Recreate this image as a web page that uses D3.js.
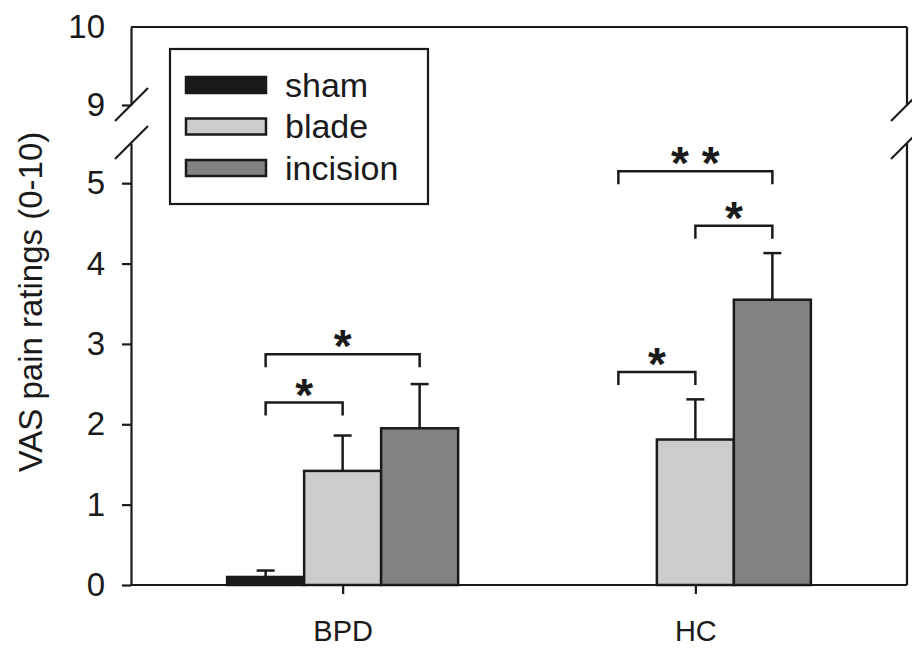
<!DOCTYPE html>
<html>
<head>
<meta charset="utf-8">
<script src="https://cdn.jsdelivr.net/npm/d3@7"></script>
<style>
  body { margin: 0; background: #fff; }
  text { font-family: "Liberation Sans", Arial, sans-serif; fill: #1a1a1a; }
</style>
</head>
<body>
<div id="chart"></div>
<script>
// data
const groups = ["BPD", "HC"];
const conditions = ["sham", "blade", "incision"];
const colors = ["#1a1a1a", "#cccccc", "#828282"];
const bpdMeans = [0.1, 1.42, 1.95];
const bpdErrors = [0.08, 0.44, 0.55];
const hcMeans = [null, 1.81, 3.55];
const hcErrors = [null, 0.5, 0.58];
const lowTicks = [0, 1, 2, 3, 4, 5];
const highTicks = [9, 10];
// significance brackets: group, from condition, to condition, height, label
const brackets = [
    { group: "BPD", from: "sham", to: "blade", level: 2.27, label: "*" },
    { group: "BPD", from: "sham", to: "incision", level: 2.87, label: "*" },
    { group: "HC", from: "sham", to: "blade", level: 2.65, label: "*" },
    { group: "HC", from: "blade", to: "incision", level: 4.47, label: "*" },
    { group: "HC", from: "sham", to: "incision", level: 5.15, label: "* *" }
];

const width = 912, height = 648;
const left = 131, right = 907;

const svg = d3.select("#chart")
    .append("svg")
    .attr("width", width)
    .attr("height", height);

const x = d3.scalePoint()
    .domain(groups)
    .range([left, right])
    .padding(0.6);

const inner = d3.scaleBand()
    .domain(conditions)
    .range([-115.5, 115.5])
    .padding(0);

const yLow = d3.scaleLinear().domain([0, 5.5]).range([585, 143]);
const yHigh = d3.scaleLinear().domain([9, 10]).range([105, 27]);

const color = d3.scaleOrdinal().domain(conditions).range(colors);

const rows = [];
groups.forEach(g => {
    const means = g === "BPD" ? bpdMeans : hcMeans;
    const errs = g === "BPD" ? bpdErrors : hcErrors;
    conditions.forEach((c, i) => {
        if (means[i] != null) rows.push({ group: g, cond: c, mean: means[i], err: errs[i] });
    });
});

// error bars (upper only), drawn first so bars sit on top
const eb = svg.append("g").attr("stroke", "#1a1a1a").attr("stroke-width", 2.5);
rows.forEach(d => {
    const cx = x(d.group) + inner(d.cond) + inner.bandwidth() / 2;
    eb.append("line")
        .attr("x1", cx).attr("x2", cx)
        .attr("y1", yLow(d.mean)).attr("y2", yLow(d.mean + d.err));
    eb.append("line")
        .attr("x1", cx - 9).attr("x2", cx + 9)
        .attr("y1", yLow(d.mean + d.err)).attr("y2", yLow(d.mean + d.err));
});

svg.append("g")
    .selectAll("rect")
    .data(rows)
    .join("rect")
    .attr("x", d => x(d.group) + inner(d.cond))
    .attr("y", d => yLow(d.mean))
    .attr("width", inner.bandwidth())
    .attr("height", d => yLow(0) - yLow(d.mean))
    .attr("fill", d => color(d.cond))
    .attr("stroke", "#1a1a1a")
    .attr("stroke-width", 2.5);

// axes
const fmt = d3.format("d");
const axisLow = svg.append("g")
    .attr("transform", `translate(${left},0)`)
    .call(d3.axisLeft(yLow).tickValues(lowTicks).tickFormat(fmt).tickSize(9).tickSizeOuter(0).tickPadding(17));
const axisHigh = svg.append("g")
    .attr("transform", `translate(${left},0)`)
    .call(d3.axisLeft(yHigh).tickValues(highTicks).tickFormat(fmt).tickSize(9).tickSizeOuter(0).tickPadding(17));
[axisLow, axisHigh].forEach(a => {
    a.selectAll("path, line").attr("stroke", "#1a1a1a").attr("stroke-width", 2.2);
    a.selectAll("text").attr("font-size", 33).attr("fill", "#1a1a1a")
        .style("font-family", "'Liberation Sans', Arial, sans-serif");
});
axisHigh.select(".tick:last-of-type line").remove();

// right frame segments
const frame = svg.append("g").attr("stroke", "#1a1a1a").attr("stroke-width", 2.2).attr("fill", "none");
frame.append("line").attr("x1", right).attr("x2", right).attr("y1", yLow(0)).attr("y2", yLow(5.5));
frame.append("line").attr("x1", right).attr("x2", right).attr("y1", yHigh(9)).attr("y2", yHigh(10));
frame.append("line").attr("x1", left).attr("x2", right).attr("y1", yHigh(10)).attr("y2", yHigh(10));

// break marks
[left, right].forEach(px => {
    [yHigh(9), yLow(5.5)].forEach(py => {
        frame.append("line")
            .attr("x1", px - 16).attr("y1", py + 16)
            .attr("x2", px + 17).attr("y2", py - 17);
    });
});

// bottom axis
const axisX = svg.append("g")
    .attr("transform", `translate(0,${yLow(0)})`)
    .call(d3.axisBottom(x).tickSize(9).tickSizeOuter(0).tickPadding(26));
axisX.selectAll("path, line").attr("stroke", "#1a1a1a").attr("stroke-width", 2.2);
axisX.select("path").attr("d", `M${left},0H${right}`);
axisX.selectAll("text").attr("font-size", 29).attr("fill", "#1a1a1a")
    .style("font-family", "'Liberation Sans', Arial, sans-serif");

// y label
svg.append("text")
    .attr("transform", `translate(42,302) rotate(-90)`)
    .attr("text-anchor", "middle")
    .attr("font-size", 33)
    .text("VAS pain ratings (0-10)");

// significance brackets
const br = svg.append("g");
brackets.forEach(b => {
    const x1 = x(b.group) + inner(b.from) + inner.bandwidth() / 2;
    const x2 = x(b.group) + inner(b.to) + inner.bandwidth() / 2;
    const y0 = yLow(b.level);
    br.append("path")
        .attr("d", `M${x1},${y0 + 13}V${y0}H${x2}V${y0 + 13}`)
        .attr("fill", "none")
        .attr("stroke", "#1a1a1a")
        .attr("stroke-width", 2.5);
    br.append("text")
        .attr("x", (x1 + x2) / 2)
        .attr("y", y0 + 8)
        .attr("text-anchor", "middle")
        .attr("font-size", 46)
        .attr("font-weight", "bold")
        .attr("fill", "#000")
        .text(b.label);
});

// legend
const legend = svg.append("g");
legend.append("rect")
    .attr("x", 170).attr("y", 49).attr("width", 258).attr("height", 155)
    .attr("fill", "#fff").attr("stroke", "#1a1a1a").attr("stroke-width", 2.2);
const legendY = d3.scalePoint().domain(conditions).range([85, 168]);
conditions.forEach(c => {
    legend.append("rect")
        .attr("x", 186).attr("y", legendY(c) - 8)
        .attr("width", 80).attr("height", 16)
        .attr("fill", color(c)).attr("stroke", "#1a1a1a").attr("stroke-width", 2.5);
    legend.append("text")
        .attr("x", 285).attr("y", legendY(c))
        .attr("dy", "0.35em")
        .attr("font-size", 34)
        .text(c);
});
</script>
</body>
</html>
